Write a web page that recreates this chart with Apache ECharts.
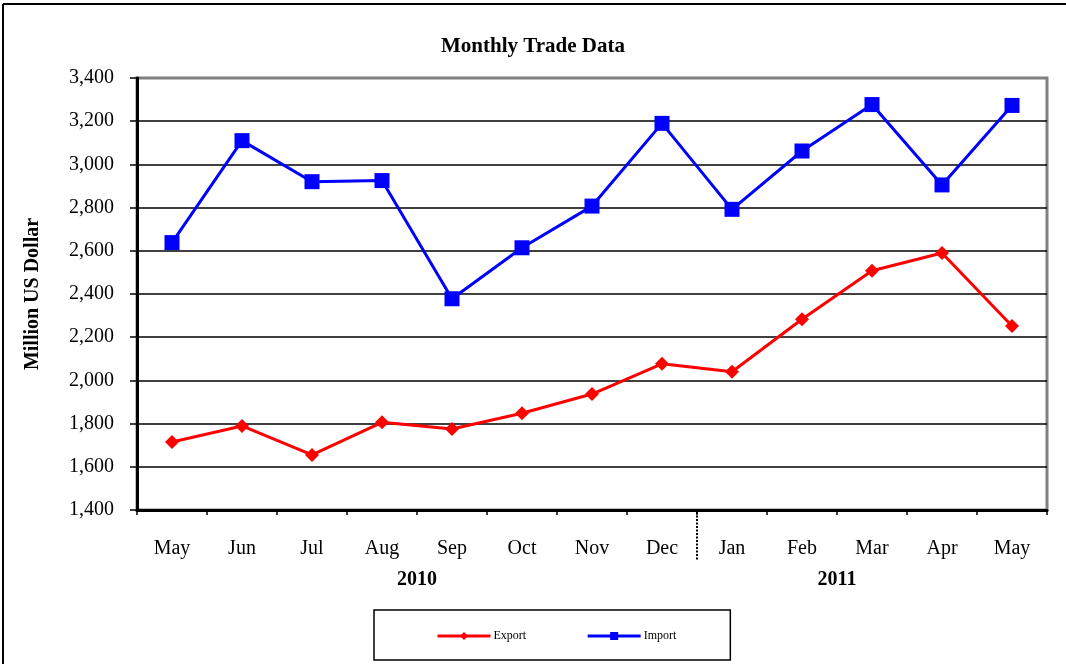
<!DOCTYPE html>
<html>
<head>
<meta charset="utf-8">
<script src="https://cdn.jsdelivr.net/npm/echarts@6/dist/echarts.min.js"></script>
<style>
html,body{margin:0;padding:0;background:#fff;}
#chart{width:1066px;height:664px;}
</style>
</head>
<body>
<div id="chart"></div>
<script>
const months = ['May','Jun','Jul','Aug','Sep','Oct','Nov','Dec','Jan','Feb','Mar','Apr','May'];
const exportValues = [1715,1789,1655,1806,1775,1848,1937,2077,2040,2283,2508,2590,2252];
const importValues = [2638,3110,2920,2925,2378,2614,2807,3190,2792,3062,3277,2905,3273];
const yearLabels = ['2010','2011'];
const yearLabelAfterIndex = [3, 9];   // label sits on boundary after this category
const yearSplitAfterIndex = 7;        // dotted divider after Dec

const FONT = '"Liberation Serif", "Times New Roman", serif';
const chart = echarts.init(document.getElementById('chart'), null, {renderer:'canvas'});

const option = {
  animation:false,
  backgroundColor:'#fff',
  title:{
    text:'Monthly Trade Data', left:'center', top:36, padding:0,
    textStyle:{fontFamily:FONT, fontSize:21, fontWeight:'bold', color:'#000'}
  },
  grid:{
    left:137, right:19, top:78, bottom:154,
    show:true, borderColor:'#808080', borderWidth:3, backgroundColor:'#fff'
  },
  legend:{
    left:374, top:610,
    padding:[20,54,18,62],
    borderColor:'#000', borderWidth:1.5,
    itemWidth:53, itemHeight:10, itemGap:60,
    lineStyle:{width:3},
    textStyle:{fontFamily:FONT, fontSize:12, color:'#000', padding:[0,0,0,-2]},
    data:['Export','Import']
  },
  xAxis:{
    type:'category', data:months, boundaryGap:true,
    axisLine:{lineStyle:{color:'#000', width:3}},
    axisTick:{show:true, length:5, lineStyle:{color:'#000', width:1.5}},
    axisLabel:{fontFamily:FONT, fontSize:20, color:'#000', margin:29},
    splitLine:{show:false}
  },
  yAxis:{
    type:'value', min:1400, max:3400, interval:200,
    name:'Million US Dollar', nameLocation:'middle', nameRotate:90, nameGap:94,
    nameTextStyle:{fontFamily:FONT, fontSize:20, fontWeight:'bold', color:'#000'},
    axisLine:{show:true, lineStyle:{color:'#000', width:3}},
    axisTick:{show:true, length:7, lineStyle:{color:'#000', width:1.5}},
    axisLabel:{fontFamily:FONT, fontSize:20, color:'#000', margin:23, padding:[4,0,0,0],
      formatter:v => v.toLocaleString('en-US')},
    splitLine:{show:true, showMaxLine:false, showMinLine:false, lineStyle:{color:'#000', width:1.5}}
  },
  series:[
    {name:'Export', type:'line', data:exportValues, color:'#ff0000',
     symbol:'diamond', symbolSize:14, showAllSymbol:true,
     lineStyle:{width:3, color:'#ff0000'}, itemStyle:{color:'#ff0000'}, z:3},
    {name:'Import', type:'line', data:importValues, color:'#0000ff',
     symbol:'rect', symbolSize:15, showAllSymbol:true,
     lineStyle:{width:3, color:'#0000ff'}, itemStyle:{color:'#0000ff'}, z:4}
  ]
};
chart.setOption(option);

function boundaryX(i){
  const a = chart.convertToPixel({xAxisIndex:0}, i);
  const b = chart.convertToPixel({xAxisIndex:0}, i+1);
  return (a+b)/2;
}
const yBottom = chart.convertToPixel({yAxisIndex:0}, 1400);
const graphics = [
  {type:'line', shape:{x1:3, y1:4, x2:3, y2:664}, style:{stroke:'#000', lineWidth:2}, silent:true},
  {type:'line', shape:{x1:3, y1:4, x2:1066, y2:4}, style:{stroke:'#000', lineWidth:2}, silent:true},
  {type:'line', shape:{x1:boundaryX(yearSplitAfterIndex), y1:yBottom+2, x2:boundaryX(yearSplitAfterIndex), y2:yBottom+50},
   style:{stroke:'#000', lineWidth:2, lineDash:[2,1.5]}, silent:true}
];
yearLabels.forEach((t,k)=>{
  graphics.push({type:'text', x:boundaryX(yearLabelAfterIndex[k]), y:yBottom+70,
    style:{text:t, font:'bold 20px ' + FONT, fill:'#000', align:'center', verticalAlign:'middle'}, silent:true});
});
chart.setOption({graphic:graphics});
</script>
</body>
</html>
